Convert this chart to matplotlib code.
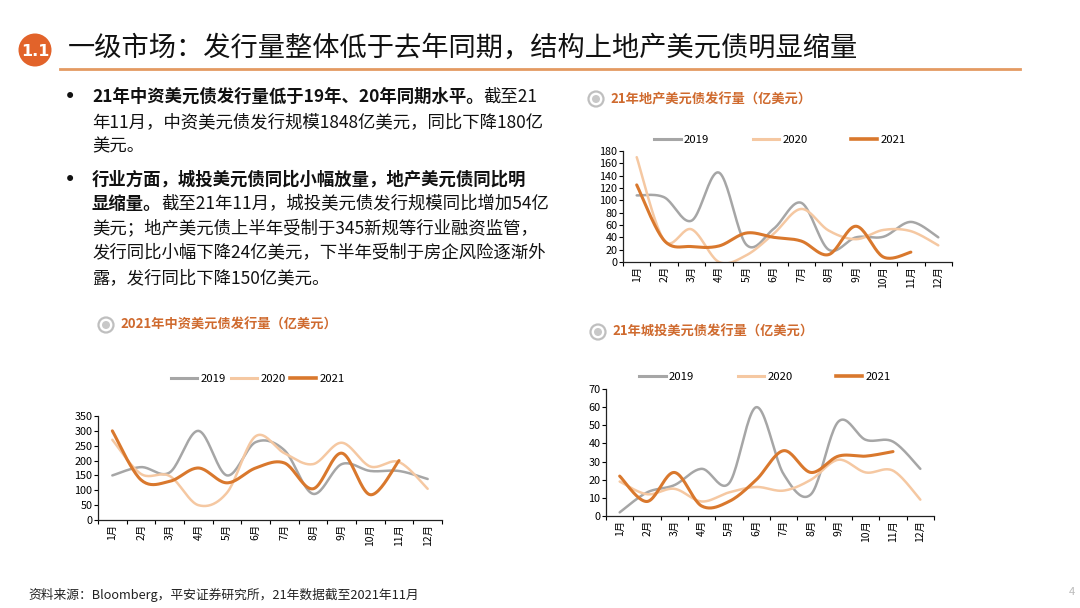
import numpy as np
import matplotlib
matplotlib.use('Agg')
import matplotlib.pyplot as plt
from matplotlib.lines import Line2D
from matplotlib.patches import Circle

plt.rcParams['font.family'] = ['Noto Sans CJK SC', 'DejaVu Sans']

#chart data
months = ['1月', '2月', '3月', '4月', '5月', '6月', '7月', '8月', '9月', '10月', '11月', '12月']
years = ['2019', '2020', '2021']

# 2021年中资美元债发行量
zz_2019 = [150, 178, 160, 300, 150, 262, 235, 88, 188, 165, 165, 138]
zz_2020 = [270, 155, 148, 50, 92, 282, 225, 188, 260, 180, 195, 105]
zz_2021 = [300, 135, 130, 175, 125, 175, 192, 105, 225, 85, 200]

# 21年地产美元债发行量
dc_2019 = [108, 105, 67, 145, 28, 54, 96, 20, 40, 41, 65, 40]
dc_2020 = [170, 35, 53, 0, 11, 46, 86, 51, 37, 52, 50, 27]
dc_2021 = [125, 35, 25, 26, 47, 40, 34, 12, 58, 8, 16]

# 21年城投美元债发行量
ct_2019 = [2, 13, 17, 26, 18, 60, 23, 12, 52, 42, 41, 26]
ct_2020 = [19, 12, 15, 8, 13, 16, 14, 20, 31, 24, 25, 9]
ct_2021 = [22, 8, 24, 5.5, 8, 20, 36, 24, 33, 33, 35.5]

colors = {'2019': '#A6A6A6', '2020': '#F5C8A2', '2021': '#D9782D'}
widths = {'2019': 1.8, '2020': 1.8, '2021': 2.2}
title_color = '#CF6A2E'

W, H = 1080, 608
fig = plt.figure(figsize=(W / 100, H / 100), dpi=100)

#background axes in pixel coordinates, for text and shapes
bg = fig.add_axes([0, 0, 1, 1])
bg.set_xlim(0, W)
bg.set_ylim(H, 0)
bg.axis('off')


def smooth(xv, yv, n=24):
    # excel style smoothing: bezier through every point
    pts = np.column_stack([xv, yv]).astype(float)
    out = []
    t = np.linspace(0, 1, n)[:, None]
    for i in range(len(pts) - 1):
        p0 = pts[i - 1] if i > 0 else pts[i]
        p1 = pts[i]
        p2 = pts[i + 1]
        p3 = pts[i + 2] if i + 2 < len(pts) else pts[i + 1]
        c1 = p1 + (p2 - p0) / 6
        c2 = p2 - (p3 - p1) / 6
        seg = (1 - t) ** 3 * p1 + 3 * (1 - t) ** 2 * t * c1 + 3 * (1 - t) * t ** 2 * c2 + t ** 3 * p2
        out.append(seg if i == 0 else seg[1:])
    out = np.vstack(out)
    return out[:, 0], out[:, 1]


def make_chart(left, right, bottom, top, ymax, ystep, series, title, title_xy, legend_xy, colspace, handlelen):
    ax = fig.add_axes([left / W, 1 - bottom / H, (right - left) / W, (bottom - top) / H])
    for yr, vals in zip(years, series):
        sx, sy = smooth(np.arange(len(vals)), vals)
        ax.plot(sx, sy, color=colors[yr], lw=widths[yr], solid_capstyle='round')
    ax.set_xlim(-0.5, 11.5)
    ax.set_ylim(0, ymax)
    ax.set_yticks(np.arange(0, ymax + 1, ystep))
    ax.set_xticks(np.arange(-0.5, 12, 1))
    ax.set_xticklabels([])
    ax.set_xticks(np.arange(12), minor=True)
    ax.set_xticklabels(months, minor=True, rotation=90, fontsize=7.5)
    ax.tick_params(axis='x', which='minor', length=0, pad=3)
    ax.tick_params(axis='x', which='major', length=3, direction='out', width=0.8)
    ax.tick_params(axis='y', length=3, direction='out', width=0.8, labelsize=7.8, pad=1)
    for s in ['top', 'right']:
        ax.spines[s].set_visible(False)
    for s in ['left', 'bottom']:
        ax.spines[s].set_color('#222222')
        ax.spines[s].set_linewidth(0.9)
    ax.patch.set_alpha(0)

    handles = [Line2D([], [], color=colors[y], lw=widths[y] + 0.4) for y in years]
    fig.legend(handles, years, ncol=3, frameon=False, loc='center',
               bbox_to_anchor=(legend_xy[0] / W, 1 - legend_xy[1] / H),
               fontsize=8.2, handlelength=handlelen, handletextpad=0.3, columnspacing=colspace)

    # title with the little round mark
    cx, cy = title_xy
    bg.add_patch(Circle((cx, cy), 7.5, facecolor='white', edgecolor='#BFBFBF', lw=1.6))
    bg.add_patch(Circle((cx, cy), 4, facecolor='#C8C8C8', edgecolor='none'))
    bg.text(cx + 14, cy, title, color=title_color, fontsize=9.5, fontweight='bold', va='center', ha='left')
    return ax


make_chart(98, 442, 520, 416, 350, 50, [zz_2019, zz_2020, zz_2021],
           '2021年中资美元债发行量（亿美元）', (106, 325), (258, 379), 0.4, 2.3)
make_chart(623, 952, 262, 151, 180, 20, [dc_2019, dc_2020, dc_2021],
           '21年地产美元债发行量（亿美元）', (596, 99), (780, 140), 3.8, 2.3)
make_chart(606, 934, 516, 389, 70, 10, [ct_2019, ct_2020, ct_2021],
           '21年城投美元债发行量（亿美元）', (598, 332), (765, 377), 3.8, 2.3)

#header
bg.add_patch(Circle((35, 50), 16.5, facecolor='#E2632A', edgecolor='none'))
bg.text(35, 51, '1.1', color='white', fontsize=11.5, fontweight='bold', ha='center', va='center',
        family=['DejaVu Sans'])
bg.text(68, 48, '一级市场：发行量整体低于去年同期，结构上地产美元债明显缩量',
        fontsize=19.6, ha='left', va='center', color='#111111')
bg.plot([60, 1020], [69, 69], color='#E49A62', lw=2)

#body text
lines = [
    (97, [('21年中资美元债发行量低于19年、20年同期水平。', 'bold'), ('截至21', 'normal')], True),
    (122, [('年11月，中资美元债发行规模1848亿美元，同比下降180亿', 'normal')], False),
    (146, [('美元。', 'normal')], False),
    (180, [('行业方面，城投美元债同比小幅放量，地产美元债同比明', 'bold')], True),
    (204, [('显缩量。', 'bold'), ('截至21年11月，城投美元债发行规模同比增加54亿', 'normal')], False),
    (229, [('美元；地产美元债上半年受制于345新规等行业融资监管，', 'normal')], False),
    (253, [('发行同比小幅下降24亿美元，下半年受制于房企风险逐渐外', 'normal')], False),
    (278, [('露，发行同比下降150亿美元。', 'normal')], False),
]
renderer = fig.canvas.get_renderer()
for y, parts, bullet in lines:
    if bullet:
        bg.text(70, y, '•', fontsize=15, ha='center', va='center', color='#111111',
                family=['DejaVu Sans'])
    x = 92
    for txt, wt in parts:
        t = bg.text(x, y, txt, fontsize=12.5, fontweight=wt, ha='left', va='center', color='#111111')
        x = t.get_window_extent(renderer).x1

#footer
bg.text(28, 595, '资料来源：Bloomberg，平安证券研究所，21年数据截至2021年11月',
        fontsize=9.2, ha='left', va='center', color='#222222')
bg.text(1072, 592, '4', fontsize=8, ha='center', va='center', color='#BBBBBB')

fig.savefig('out.png', dpi=100)
